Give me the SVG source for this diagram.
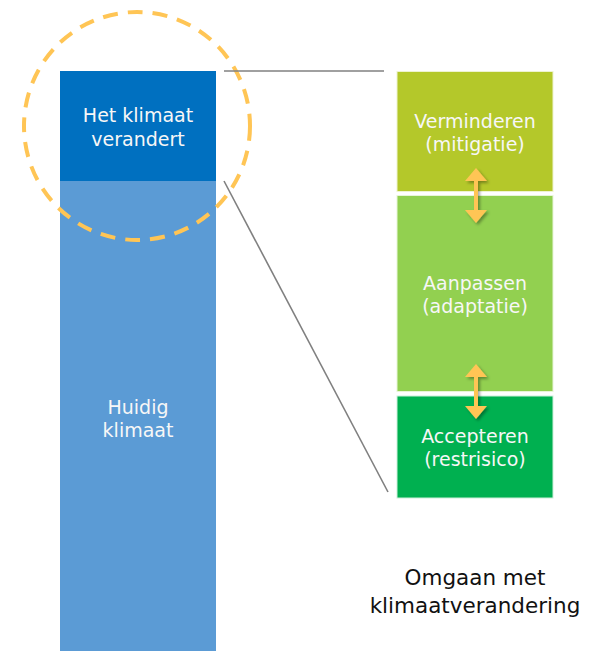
<svg xmlns="http://www.w3.org/2000/svg" width="590" height="651" viewBox="0 0 590 651">
<style>
.lbl{font-family:"DejaVu Sans",Verdana,sans-serif;font-size:19px;fill:#F7F7F7;text-anchor:middle}
.cap{font-family:"DejaVu Sans",Verdana,sans-serif;font-size:21.5px;fill:#111;text-anchor:middle}
.conn{stroke:#808080;stroke-width:1.6;fill:none}
.arr{stroke:#FFC555;stroke-width:4;fill:none}
.head{fill:#FFC555}
</style>
<defs>
<filter id="sh" x="-50%" y="-50%" width="200%" height="200%">
<feDropShadow dx="2" dy="2" stdDeviation="1.5" flood-color="#000" flood-opacity="0.35"/>
</filter>
</defs>
<rect width="590" height="651" fill="#fff"/>
<g id="huidig-klimaat">
<rect x="60" y="181" width="156" height="470" fill="#5B9BD5"/>
<text class="lbl" x="138" y="414">Huidig</text>
<text class="lbl" x="138" y="437">klimaat</text>
</g>
<g id="klimaat-verandert">
<rect x="60" y="71" width="156" height="110" fill="#0070C0"/>
<text class="lbl" x="138" y="122">Het klimaat</text>
<text class="lbl" x="138" y="146">verandert</text>
</g>
<g id="focus-circle">
<ellipse cx="137" cy="126" rx="113" ry="114" fill="none" stroke="#FFC555" stroke-width="4" stroke-dasharray="15 10"/>
</g>
<g id="connectors">
<line class="conn" x1="224" y1="71" x2="384" y2="71"/>
<line class="conn" x1="224" y1="181" x2="388" y2="492"/>
</g>
<g id="verminderen">
<rect x="397" y="71.5" width="156" height="120" fill="#B4C82A" stroke="#EEF3D0" stroke-width="1"/>
<text class="lbl" x="475" y="128">Verminderen</text>
<text class="lbl" x="475" y="151">(mitigatie)</text>
</g>
<g id="aanpassen">
<rect x="397" y="195.5" width="156" height="196" fill="#92D050" stroke="#E8F5D8" stroke-width="1"/>
<text class="lbl" x="475" y="290">Aanpassen</text>
<text class="lbl" x="475" y="313">(adaptatie)</text>
</g>
<g id="accepteren">
<rect x="397" y="396" width="156" height="102" fill="#00B050" stroke="#CCEFD9" stroke-width="1"/>
<text class="lbl" x="475" y="443">Accepteren</text>
<text class="lbl" x="475" y="466">(restrisico)</text>
</g>
<g id="arrows" filter="url(#sh)">
<line class="arr" x1="476" y1="178" x2="476" y2="212"/>
<polygon class="head" points="476,168 465,181 487,181"/>
<polygon class="head" points="476,223 465,210 487,210"/>
<line class="arr" x1="476" y1="374" x2="476" y2="408"/>
<polygon class="head" points="476,364 465,377 487,377"/>
<polygon class="head" points="476,419 465,406 487,406"/>
</g>
<g id="caption">
<text class="cap" x="475" y="585">Omgaan met</text>
<text class="cap" x="475" y="613">klimaatverandering</text>
</g>
</svg>
